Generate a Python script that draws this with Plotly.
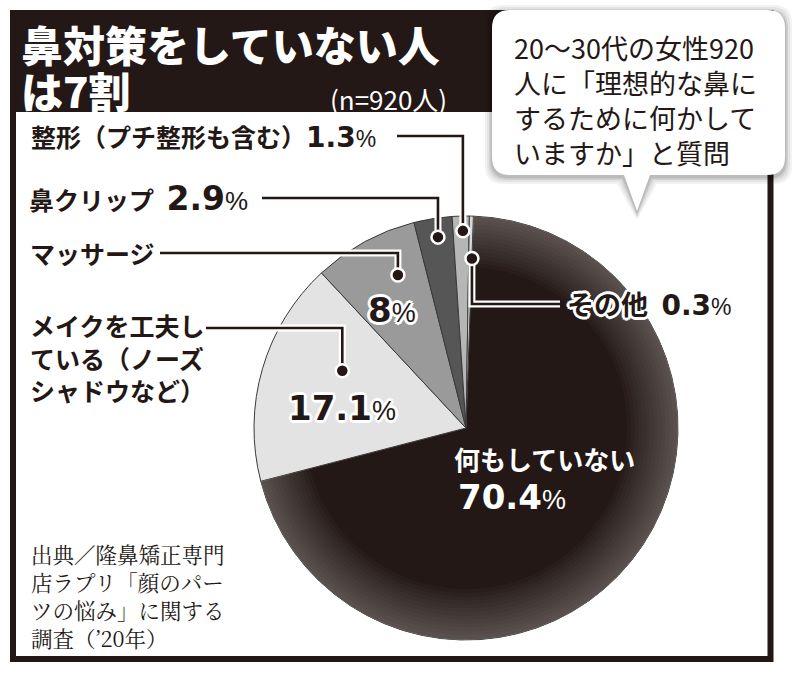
import math
import plotly.graph_objects as go

W, H = 800, 673

# ---------------- data ----------------
labels = ["何もしていない", "メイクを工夫している（ノーズシャドウなど）", "マッサージ",
          "鼻クリップ", "整形（プチ整形も含む）", "その他"]
values = [70.4, 17.1, 8, 2.9, 1.3, 0.3]
colors = ["#231815", "#e3e3e3", "#9a9a9a", "#565656", "#b6b6b6", "#d8d8d8"]

title_lines = ["鼻対策をしていない人", "は7割"]
sample_note = "(n=920人)"
question_lines = ["20～30代の女性920", "人に「理想的な鼻に", "するために何かして", "いますか」と質問"]
source_lines = ["出典／隆鼻矯正専門", "店ラプリ「顔のパー", "ツの悩み」に関する", "調査（’20年）"]

# ---------------- helpers ----------------
def X(px):
    return px / W

def Y(py):
    return 1 - py / H

INK = "#231815"
JP = "Noto Sans CJK JP"
NUMFONT = "DejaVu Sans"
OUTLINE = ", ".join(f"{dx}px {dy}px 0px white" for dx, dy in
                    [(2, 0), (-2, 0), (0, 2), (0, -2), (2, 2), (-2, -2), (2, -2), (-2, 2),
                     (3, 0), (-3, 0), (0, 3), (0, -3)])

def pct(v):
    return f"{v:g}"

def num_html(v, nsize, psize):
    return (f"<span style='font-family:\"{NUMFONT}\";font-weight:bold;font-size:{nsize}px'>{pct(v)}</span>"
            f"<span style='font-family:\"Liberation Sans\";font-weight:normal;font-size:{psize}px'>%</span>")

# pie geometry
CX, CY, R = 466, 428, 212
ROT = 2

fig = go.Figure()
dom = dict(x=[X(CX - R), X(CX + R)], y=[Y(CY + R), Y(CY - R)])

fig.add_trace(go.Pie(
    labels=labels, values=values, sort=False, direction="clockwise", rotation=ROT,
    marker=dict(colors=colors, line=dict(color="#3a3a3a", width=1)),
    textinfo="none", hoverinfo="label+percent", domain=dom, showlegend=False,
))
# soft edge sheen on the main slice (same data, thin ring overlays)
n_rings = 14
for k in range(n_rings):
    hole = 0.76 + 0.235 * k / (n_rings - 1)
    ring_cols = ["rgba(255,255,255,0.022)"] + ["rgba(0,0,0,0)"] * (len(values) - 1)
    fig.add_trace(go.Pie(
        labels=labels, values=values, sort=False, direction="clockwise", rotation=ROT,
        hole=hole, marker=dict(colors=ring_cols, line=dict(width=0)),
        textinfo="none", hoverinfo="skip", domain=dom, showlegend=False,
    ))

total = sum(values)
cum = []
c = 0
for v in values:
    cum.append(c)
    c += v

def slice_point(i, frac, rfrac):
    ang = math.radians(ROT + 360 * (cum[i] + frac * values[i]) / total)
    return CX + rfrac * R * math.sin(ang), CY - rfrac * R * math.cos(ang)

shapes = []
# outer frame and title band
shapes.append(dict(type="rect", xref="paper", yref="paper", x0=X(10), x1=X(773), y0=Y(10), y1=Y(112),
                   fillcolor=INK, line=dict(width=0), layer="below"))
shapes.append(dict(type="rect", xref="paper", yref="paper", x0=X(13), x1=X(770.5), y0=Y(13), y1=Y(659),
                   fillcolor="rgba(0,0,0,0)", line=dict(color=INK, width=6)))

# speech bubble
def bubble_path(x0, y0, x1, y1, r, tip, grow=0, dy=0):
    x0 -= grow; y0 -= grow - dy; x1 += grow; y1 += grow + dy
    bl, br, tx, ty = tip
    ty += grow + dy
    pts = [
        ("M", [(x0 + r, y0)]), ("L", [(x1 - r, y0)]), ("Q", [(x1, y0), (x1, y0 + r)]),
        ("L", [(x1, y1 - r)]), ("Q", [(x1, y1), (x1 - r, y1)]),
        ("L", [(br + grow, y1)]), ("L", [(tx, ty)]), ("L", [(bl - grow, y1)]),
        ("L", [(x0 + r, y1)]), ("Q", [(x0, y1), (x0, y1 - r)]),
        ("L", [(x0, y0 + r)]), ("Q", [(x0, y0), (x0 + r, y0)]),
    ]
    s = ""
    for cmd, ps in pts:
        s += cmd + " ".join(f"{X(px):.5f},{Y(py):.5f}" for px, py in ps) + " "
    return s + "Z"

BUB = (492, 10, 785, 175, 18, (624, 650, 637, 211))
for g, a in [(7, 0.05), (5, 0.06), (3, 0.08), (1.5, 0.1)]:
    shapes.append(dict(type="path", xref="paper", yref="paper",
                       path=bubble_path(*BUB[:5], BUB[5], grow=g, dy=2),
                       fillcolor=f"rgba(0,0,0,{a})", line=dict(width=0)))
shapes.append(dict(type="path", xref="paper", yref="paper", path=bubble_path(*BUB[:5], BUB[5]),
                   fillcolor="white", line=dict(width=0)))

# leader lines (positions are layout settings)
callouts = {
    4: dict(frac=0.61, r=0.93, label_y=136, start_x=397),
    3: dict(frac=0.56, r=0.91, label_y=198, start_x=262),
    2: dict(frac=0.66, r=0.79, label_y=253, start_x=160),
    1: dict(frac=0.64, r=0.643, label_y=328, start_x=206),
    5: dict(frac=1.0, r=0.80, label_y=304, start_x=560),
}
dots = []
for i, cfg in callouts.items():
    dx, dy = slice_point(i, cfg["frac"], cfg["r"])
    pts = [(cfg["start_x"], cfg["label_y"]), (dx, cfg["label_y"]), (dx, dy)]
    path = "M" + " L".join(f"{X(px):.5f},{Y(py):.5f}" for px, py in pts)
    shapes.append(dict(type="path", xref="paper", yref="paper", path=path,
                       line=dict(color="white", width=7)))
    shapes.append(dict(type="path", xref="paper", yref="paper", path=path,
                       line=dict(color=INK, width=2.6)))
    dots.append((dx, dy))
for dx, dy in dots:
    rr = 6.5
    shapes.append(dict(type="circle", xref="paper", yref="paper",
                       x0=X(dx - rr), x1=X(dx + rr), y0=Y(dy + rr), y1=Y(dy - rr),
                       fillcolor=INK, line=dict(color="white", width=2.5)))

anns = []
def ann(text, x, y, size, color=INK, family=JP, xanchor="left", yanchor="middle",
        weight="normal", shadow=None, align="left"):
    font = dict(size=size, color=color, family=family, weight=weight)
    if shadow:
        font["shadow"] = shadow
    anns.append(dict(text=text, x=X(x), y=Y(y), xref="paper", yref="paper", showarrow=False,
                     xanchor=xanchor, yanchor=yanchor, align=align, font=font))

# title
ann(title_lines[0], 19, 43, 42, color="white", weight=900)
ann(title_lines[1], 19, 90, 42, color="white", weight=900)
ann(sample_note, 449, 98, 26, color="white", xanchor="right")

# question
ann("<br>".join(question_lines), 512, 100, 27, color=INK)

# labels
ann(labels[4] + num_html(values[4], 28, 23), 29, 136, 25, weight="bold")
ann(labels[3] + "\u2002" + num_html(values[3], 33, 26), 27, 198, 25, weight="bold")
ann(labels[2], 28, 253, 25, weight="bold")
lab1 = labels[1]
ann("<br>".join(lab1[k:k + 7] for k in range(0, len(lab1), 7)), 28, 357, 25, weight="bold")
ann(num_html(values[1], 34, 27), 342, 408, 34, xanchor="center", shadow=OUTLINE)
ann(num_html(values[2], 34, 27), 392, 310, 34, xanchor="center", shadow=OUTLINE)
ann(labels[0], 452, 458, 26, color="white", weight="bold")
ann(num_html(values[0], 34, 27), 456, 497, 34, color="white")
ann(labels[5] + "\u2002" + num_html(values[5], 28, 23), 565, 304, 27, weight="bold", shadow=OUTLINE)

# source
ann("<br>".join(source_lines), 29, 595, 21.5, color=INK, family="Noto Serif CJK JP, Noto Sans CJK JP")

fig.update_layout(
    width=W, height=H, margin=dict(l=0, r=0, t=0, b=0),
    paper_bgcolor="white", plot_bgcolor="white", showlegend=False,
    shapes=shapes, annotations=anns,
)

fig.write_html("out.html")
